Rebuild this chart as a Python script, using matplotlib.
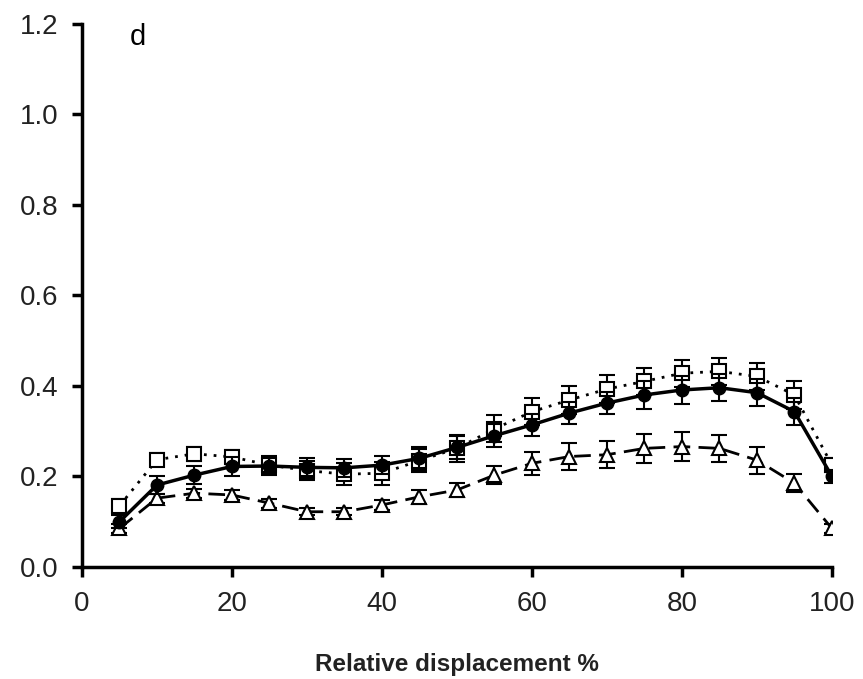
import matplotlib
matplotlib.use("Agg")
import matplotlib.pyplot as plt
import numpy as np

plt.rcParams['font.family'] = ['Liberation Sans', 'DejaVu Sans']

# relative displacement (%)
x = np.arange(5, 101, 5)

# filled circles, solid line
circ = [0.10, 0.181, 0.203, 0.222, 0.223, 0.220, 0.219, 0.225, 0.240, 0.264,
        0.290, 0.314, 0.340, 0.362, 0.380, 0.391, 0.396, 0.385, 0.343, 0.200]
circ_err = [0.015, 0.02, 0.02, 0.02, 0.02, 0.02, 0.02, 0.02, 0.025, 0.025,
            0.025, 0.025, 0.025, 0.025, 0.03, 0.03, 0.03, 0.03, 0.03, 0.015]

# open squares, dotted line
sq = [0.135, 0.237, 0.250, 0.243, 0.225, 0.213, 0.205, 0.207, 0.235, 0.262,
      0.305, 0.343, 0.369, 0.393, 0.410, 0.428, 0.432, 0.421, 0.380, 0.225]
sq_err = [0.015, 0.015, 0.015, 0.015, 0.02, 0.02, 0.025, 0.025, 0.025, 0.03,
          0.03, 0.03, 0.03, 0.03, 0.03, 0.03, 0.03, 0.03, 0.03, 0.015]

# open triangles, dashed line
tri = [0.085, 0.152, 0.163, 0.159, 0.141, 0.122, 0.122, 0.137, 0.155, 0.170,
       0.203, 0.229, 0.244, 0.248, 0.262, 0.266, 0.262, 0.236, 0.185, 0.085]
tri_err = [0.01, 0.01, 0.01, 0.01, 0.01, 0.008, 0.008, 0.012, 0.015, 0.015,
           0.02, 0.025, 0.03, 0.03, 0.032, 0.033, 0.03, 0.03, 0.02, 0.01]

fig = plt.figure(figsize=(8.63, 6.79), dpi=100)
ax = fig.add_axes([0.095, 0.165, 0.869, 0.8])

ax.errorbar(x, sq, yerr=sq_err, color="black", linestyle=(0, (1, 2.5)), linewidth=2,
            marker="s", markersize=9.5, markerfacecolor="white", markeredgewidth=1.5,
            capsize=6, elinewidth=1.5, capthick=1.5, zorder=2)
ax.errorbar(x, tri, yerr=tri_err, color="black", linestyle=(0, (6, 3)), linewidth=2,
            marker="^", markersize=10.5, markerfacecolor="white", markeredgewidth=1.5,
            capsize=6, elinewidth=1.5, capthick=1.5, zorder=3)
ax.errorbar(x, circ, yerr=circ_err, color="black", linestyle="-", linewidth=2.5,
            marker="o", markersize=9, markerfacecolor="black",
            capsize=6, elinewidth=1.5, capthick=1.5, zorder=4)

ax.set_xlim(0, 100)
ax.set_ylim(0, 1.2)
ax.set_xticks([0, 20, 40, 60, 80, 100])
ax.set_yticks([0.0, 0.2, 0.4, 0.6, 0.8, 1.0, 1.2])
ax.set_yticklabels(["0.0", "0.2", "0.4", "0.6", "0.8", "1.0", "1.2"])

ax.spines["top"].set_visible(False)
ax.spines["right"].set_visible(False)
ax.spines["left"].set_linewidth(2.5)
ax.spines["bottom"].set_linewidth(2.5)
ax.tick_params(direction="out", length=7, width=2.5, labelsize=20, pad=10,
               labelcolor="#222222")

ax.set_xlabel("Relative displacement %", fontsize=17.5, fontweight="bold",
              labelpad=26, color="#222222")
ax.text(7.5, 1.17, "d", fontsize=21, ha="center", va="center")

fig.savefig("out.png", dpi=100)
